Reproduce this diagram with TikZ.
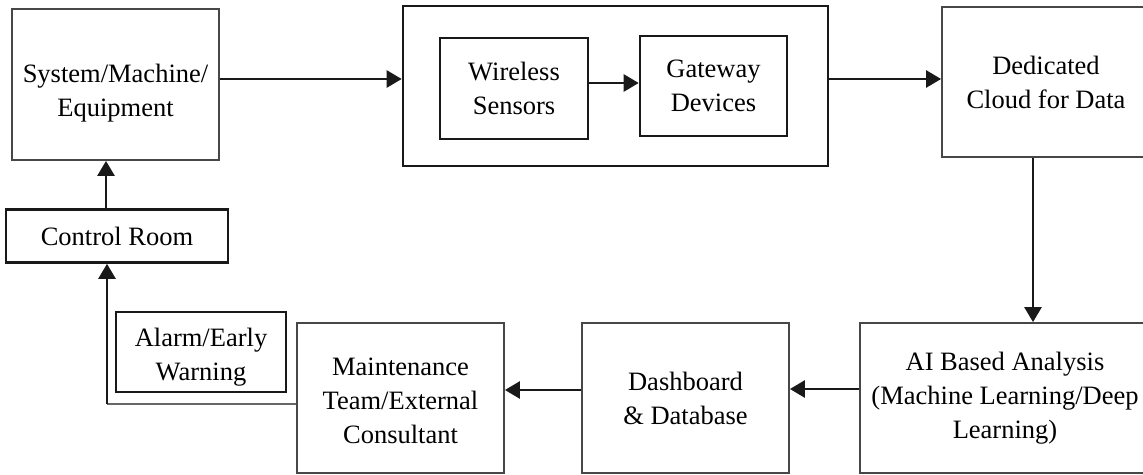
\documentclass[tikz,border=0pt]{standalone}
\usepackage{fontspec}
\setmainfont{Liberation Serif}
\usetikzlibrary{arrows.meta}
\tikzset{
  txt/.style={align=center, inner sep=0pt, font=\fontsize{26.5}{34}\selectfont},
  gbox/.style={txt, draw=black!72, line width=1.8pt},
  kbox/.style={txt, draw=black!90, line width=2.6pt},
  arr/.style={draw=black!90, line width=2.6pt, -{Triangle[length=15pt,width=17pt]}},
  gline/.style={draw=black!60, line width=1.8pt}
}
\begin{document}
\begin{tikzpicture}[x=1pt, y=-1pt]
  \useasboundingbox (0,0) rectangle (1143,474);
  \clip (0,0) rectangle (1143,474);

  % top row
  \node[gbox, minimum width=207pt, minimum height=151pt] (system) at (115.5,84.5) {};
  \node[txt] (systemtext) at (115.5,93) {System/Machine/\\Equipment};
  \node[kbox, minimum width=425pt, minimum height=160pt] (hub) at (615.5,86) {};
  \node[kbox, minimum width=148pt, minimum height=101pt] (wireless) at (514,88.5) {Wireless\\Sensors};
  \node[kbox, minimum width=147pt, minimum height=100pt] (gateway) at (713.5,86) {Gateway\\Devices};
  \node[gbox, minimum width=208pt, minimum height=150pt] (cloud) at (1046,82) {Dedicated\\Cloud for Data};

  % bottom row
  \node[gbox, minimum width=290pt, minimum height=150pt] (ai) at (1005,398) {AI Based Analysis\\(Machine Learning/Deep\\Learning)};
  \node[gbox, minimum width=207pt, minimum height=150pt] (dash) at (685.5,398) {Dashboard\\\& Database};
  \node[gbox, minimum width=207pt, minimum height=150pt] (maint) at (400.5,398) {};
  \node[txt] (mainttext) at (400.5,401) {Maintenance\\Team/External\\Consultant};
  \node[kbox, minimum width=170pt, minimum height=80pt] (alarm) at (201,352) {};
  \node[txt] (alarmtext) at (201,357) {Alarm/Early\\Warning};
  \node[kbox, minimum width=222pt, minimum height=53pt] (control) at (117,236) {Control Room};

  % connectors
  \draw[arr] ([yshift=5.5pt]system.east) -- ([yshift=5.5pt]system.east -| hub.west);
  \draw[arr] ([yshift=5.5pt]wireless.east) -- ([yshift=5.5pt]wireless.east -| gateway.west);
  \draw[arr] ([yshift=7pt]hub.east) -- ([yshift=7pt]hub.east -| cloud.west);
  \draw[arr] ([xshift=-13pt]cloud.south) -- ([xshift=-13pt]cloud.south |- ai.north);
  \draw[arr] ([yshift=9pt]ai.west) -- ([yshift=9pt]ai.west -| dash.east);
  \draw[arr] ([yshift=8pt]dash.west) -- ([yshift=8pt]dash.west -| maint.east);
  \coordinate (bend) at (107,404);
  \draw[gline] ([yshift=-6pt]maint.west) -- (bend);
  \draw[arr] (bend) -- (bend |- control.south);
  \draw[arr] ([xshift=-11pt]control.north) -- ([xshift=-11pt]control.north |- system.south);
\end{tikzpicture}
\end{document}
